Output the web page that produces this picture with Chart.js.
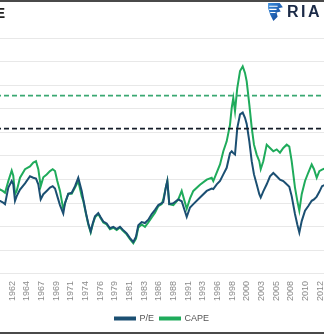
<!DOCTYPE html>
<html>
<head>
<meta charset="utf-8">
<script src="https://cdn.jsdelivr.net/npm/chart.js@4.4.1/dist/chart.umd.min.js"></script>
<style>
  html, body { margin: 0; padding: 0; background: #fff; }
  body { width: 324px; height: 334px; overflow: hidden; position: relative; font-family: "Liberation Sans", Arial, sans-serif; }
  .edge { position: absolute; left: 0; width: 324px; background: #4a4a4a; }
  #title { position: absolute; top: 5px; right: 319px; white-space: nowrap; font-weight: bold; font-size: 14px; color: #222; }
  #logo { position: absolute; top: 2px; left: 267px; display: flex; align-items: center; white-space: nowrap; }
  #logo span { font-size: 16px; font-weight: bold; color: #1b2a47; letter-spacing: 2.5px; margin-left: 3px; }
  #wrap { position: absolute; left: -20px; top: 0; width: 364px; height: 334px; }
</style>
</head>
<body>
<div id="wrap"><canvas id="grafica" width="364" height="334"></canvas></div>
<div id="title">P/E VS. CAPE</div>
<div id="logo">
  <svg width="17" height="20" viewBox="0 0 16 19">
    <defs><linearGradient id="g" x1="0" y1="0" x2="1" y2="1"><stop offset="0" stop-color="#3b8fe0"/><stop offset="1" stop-color="#0b3a8a"/></linearGradient></defs>
    <path d="M1 1 L12 1 L15 5 L11 6 L13 9 L9 10 L10 14 L6 18 L3 12 L1 6 Z" fill="url(#g)"/>
    <path d="M2 4 L10 4 M2 7 L9 7 M3 10 L8 10" stroke="#fff" stroke-width="1"/>
  </svg>
  <span>RIA</span>
</div>
<div class="edge" style="top:0;height:2px"></div>
<div class="edge" style="top:332px;height:2px"></div>
<script>
// ==========================================
// DATOS
// ==========================================
const fechas = [
  1959.71, 1960.36, 1960.80, 1961.18, 1961.72, 1962.27, 1962.53, 1962.81, 1963.09, 1963.63,
  1964.45, 1965.26, 1965.80, 1966.24, 1966.62, 1967.01, 1967.44, 1967.99, 1968.53, 1968.97,
  1969.35, 1969.72, 1970.16, 1970.70, 1970.98, 1971.52, 1972.08, 1972.62, 1973.15, 1973.71,
  1973.97, 1974.41, 1974.79, 1975.18, 1975.51, 1975.88, 1976.42, 1976.81, 1977.24, 1977.79,
  1978.33, 1978.87, 1979.43, 1979.97, 1980.41, 1981.06, 1981.60, 1982.14, 1982.58, 1982.96,
  1983.51, 1984.05, 1984.59, 1985.15, 1985.69, 1986.23, 1986.78, 1987.04, 1987.48, 1987.70,
  1988.02, 1988.68, 1989.49, 1990.05, 1990.87, 1991.41, 1991.95, 1993.04, 1994.14, 1994.95,
  1995.21, 1995.77, 1996.31, 1996.85, 1997.40, 1997.94, 1998.22, 1998.48, 1998.76, 1999.13,
  1999.58, 2000.02, 2000.39, 2000.67, 2001.10, 2001.49, 2001.86, 2002.30, 2002.73, 2002.96,
  2003.38, 2003.94, 2004.48, 2005.02, 2005.57, 2006.11, 2006.65, 2007.21, 2007.63, 2008.02,
  2008.56, 2008.94, 2009.27, 2009.66, 2010.20, 2010.74, 2011.29, 2011.67, 2012.11, 2012.54,
  2012.98, 2013.63
];
const valoresPE = [
  15.8, 15.5, 15.2, 14.8, 18.3, 19.7, 19.0, 15.5, 16.5, 17.9,
  19.2, 20.7, 20.4, 20.2, 19.0, 15.8, 16.9, 17.6, 18.3, 18.6,
  18.1, 16.5, 14.6, 12.8, 15.0, 17.0, 17.2, 18.6, 20.4, 17.6,
  15.8, 12.9, 10.7, 9.0, 10.7, 12.2, 12.9, 12.0, 11.1, 10.7,
  9.7, 10.0, 9.5, 10.0, 9.4, 8.6, 7.6, 6.8, 7.9, 10.3,
  11.0, 10.8, 11.5, 12.7, 13.6, 14.6, 15.0, 15.2, 18.5, 19.7,
  14.8, 15.0, 15.8, 15.4, 12.1, 14.1, 14.8, 16.2, 17.6, 18.1,
  18.0, 19.0, 19.7, 21.1, 22.5, 25.6, 26.0, 25.6, 25.3, 30.9,
  33.8, 34.2, 33.1, 31.8, 28.1, 23.9, 21.1, 19.0, 16.9, 16.2,
  17.5, 19.0, 20.7, 21.4, 20.7, 20.0, 19.7, 19.0, 18.5, 16.5,
  12.7, 10.5, 8.8, 11.2, 13.4, 14.4, 15.5, 15.8, 16.4, 17.4,
  18.6, 19.0
];
const valoresCAPE = [
  18.2, 17.9, 17.6, 17.2, 19.7, 21.9, 20.8, 16.9, 17.6, 20.4,
  22.2, 22.8, 23.6, 23.9, 22.2, 18.6, 20.5, 21.1, 21.8, 22.2,
  21.8, 19.7, 17.6, 13.7, 15.0, 17.0, 17.0, 18.3, 19.7, 16.5,
  15.5, 12.7, 10.5, 8.8, 10.5, 12.0, 12.7, 11.8, 10.9, 10.5,
  9.5, 9.8, 9.3, 9.85, 9.2, 8.4, 7.4, 6.5, 7.5, 9.85,
  10.5, 10.0, 10.9, 12.0, 13.0, 14.4, 14.8, 15.8, 18.5, 19.7,
  14.8, 14.6, 15.8, 17.6, 13.8, 16.0, 17.6, 18.9, 20.0, 20.4,
  19.7, 21.5, 23.2, 26.0, 28.1, 31.6, 35.2, 37.3, 34.5, 39.4,
  43.0, 44.0, 42.6, 40.8, 35.9, 31.0, 27.4, 25.3, 23.9, 22.2,
  23.9, 27.4, 26.7, 26.0, 26.4, 25.7, 26.7, 27.4, 27.0, 23.9,
  18.3, 15.5, 13.4, 16.9, 19.7, 21.5, 23.2, 22.2, 20.4, 21.8,
  22.1, 22.5
];
const etiquetasAnio = ['1959', '1962', '1964', '1967', '1969', '1971', '1974', '1976', '1979', '1981', '1983',
  '1986', '1988', '1991', '1993', '1996', '1998', '2000', '2003', '2005', '2008', '2010', '2012'];
const nivelPE = 30.8;
const nivelCAPE = 37.8;

// ==========================================
// ESCALA X (ventana visible)
// ==========================================
const xMin = 1957.092, xMax = 2016.569;
const primerTick = 1959.97, pasoTick = 2.397;

const puntos = vals => vals.map((v, i) => ({ x: fechas[i], y: v }));
const linea = nivel => [{ x: xMin, y: nivel }, { x: xMax, y: nivel }];

const ctx = document.getElementById('grafica').getContext('2d');
new Chart(ctx, {
  type: 'line',
  data: {
    datasets: [
      { label: 'P/E', data: puntos(valoresPE), borderColor: '#1b4f72', backgroundColor: '#1b4f72', borderWidth: 2, pointRadius: 0, order: 1 },
      { label: 'CAPE', data: puntos(valoresCAPE), borderColor: '#1fab5b', backgroundColor: '#1fab5b', borderWidth: 2, pointRadius: 0, order: 2 },
      { label: 'pe-band', data: linea(nivelPE), borderColor: '#151c28', borderWidth: 1.6, borderDash: [5, 3], pointRadius: 0 },
      { label: 'cape-band', data: linea(nivelCAPE), borderColor: '#3aa872', borderWidth: 1.6, borderDash: [5, 3], pointRadius: 0 }
    ]
  },
  options: {
    responsive: false,
    animation: false,
    layout: { padding: { top: 38, left: 0, right: 0, bottom: 1 } },
    plugins: {
      legend: {
        position: 'bottom',
        labels: {
          boxWidth: 20, boxHeight: 2, padding: 6, color: '#555',
          font: { size: 9, family: 'Liberation Sans' },
          filter: item => item.datasetIndex < 2
        }
      },
      tooltip: { enabled: false }
    },
    scales: {
      x: {
        type: 'linear', min: xMin, max: xMax,
        afterBuildTicks: axis => { axis.ticks = etiquetasAnio.map((t, i) => ({ value: primerTick + i * pasoTick })); },
        ticks: {
          autoSkip: false, minRotation: 90, maxRotation: 90, padding: 7,
          color: '#8a8a8a', font: { size: 9, family: 'Liberation Sans' },
          callback: (v, i) => etiquetasAnio[i]
        },
        grid: { display: false, drawTicks: false },
        border: { display: false }
      },
      y: {
        min: 0, max: 50,
        afterFit: axis => { axis.width = 0; },
        ticks: { display: false, stepSize: 5 },
        grid: { color: '#e8e8e8', drawTicks: false },
        border: { display: false }
      }
    }
  }
});
</script>
</body>
</html>
